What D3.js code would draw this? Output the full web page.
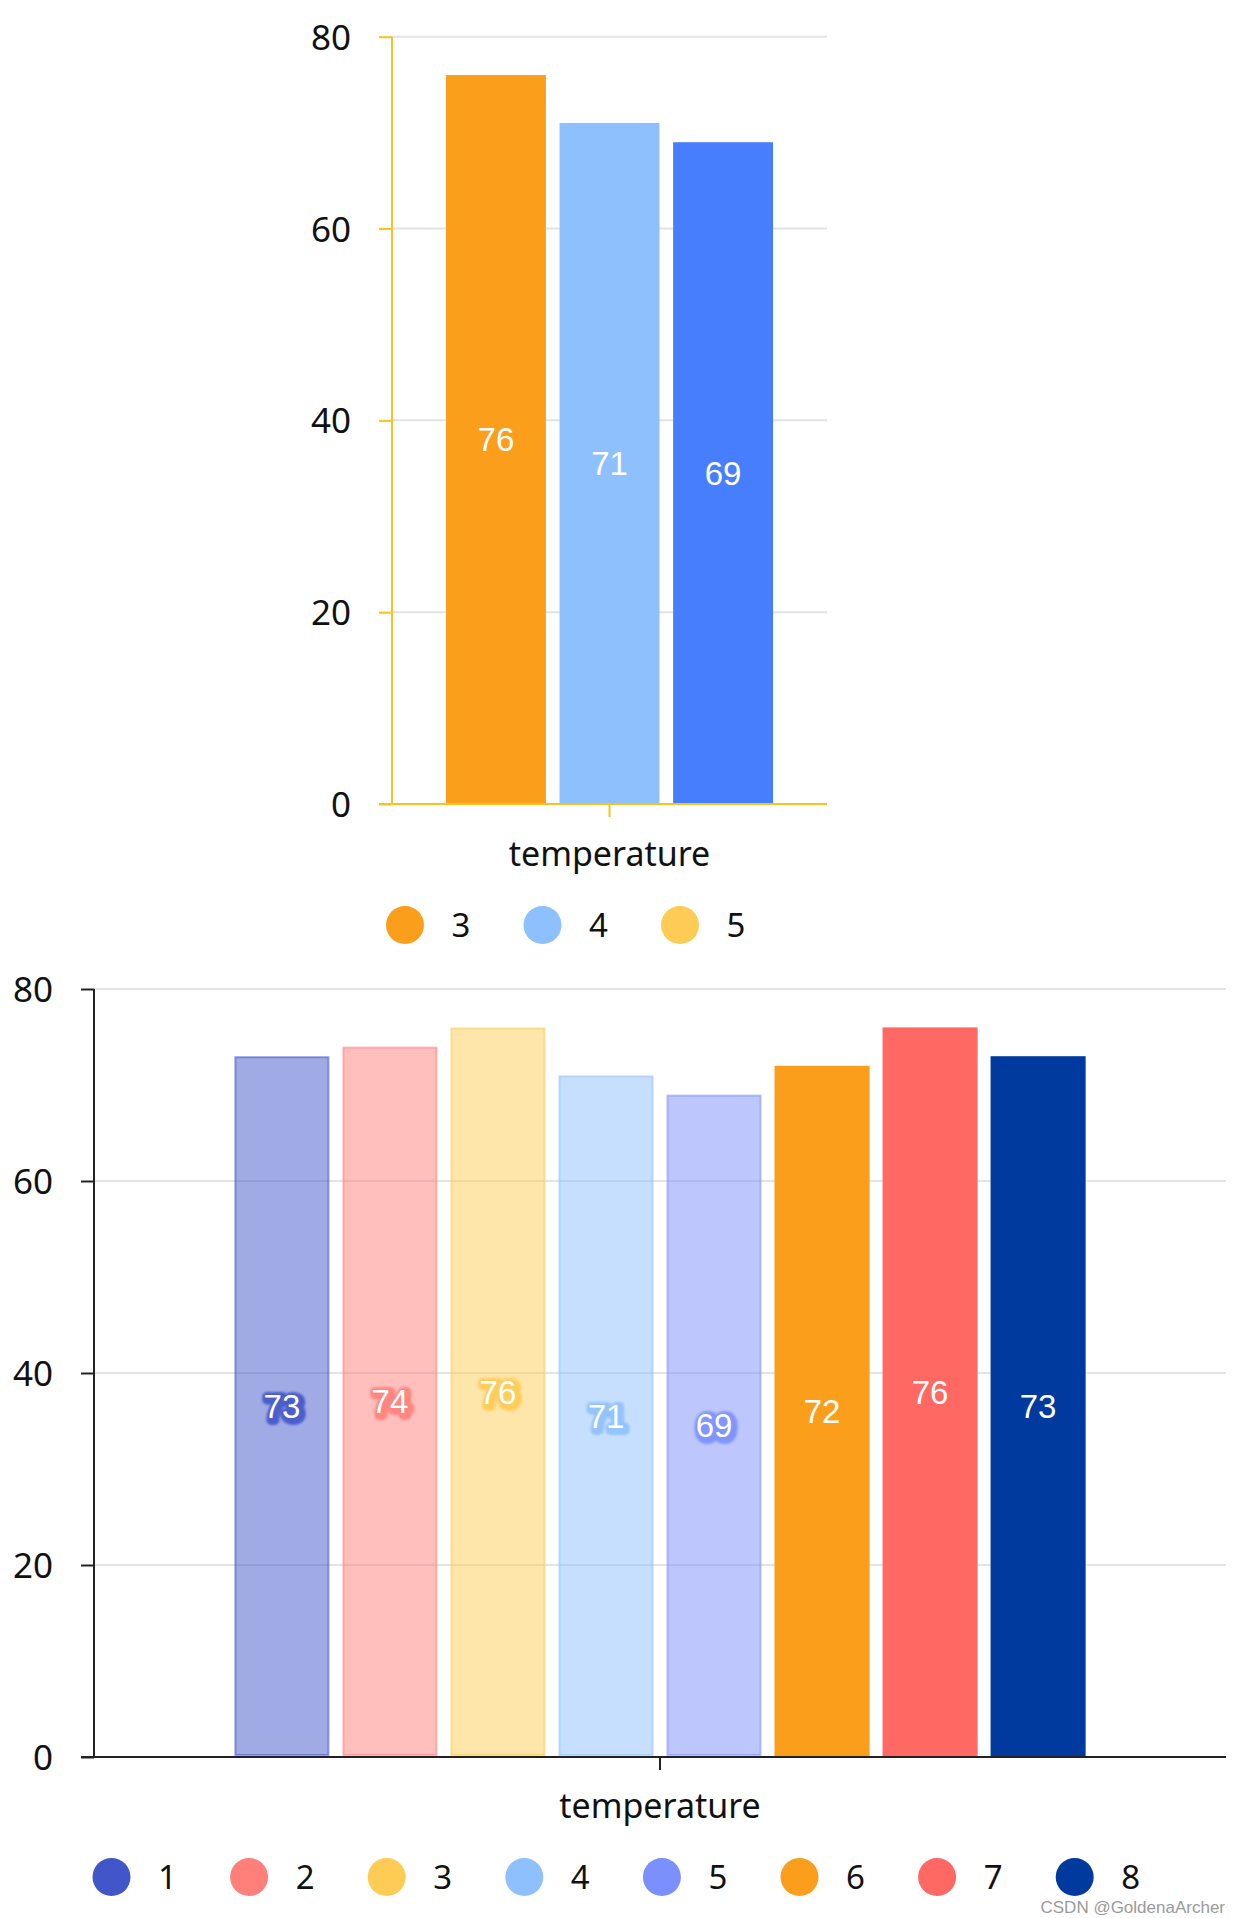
<!DOCTYPE html>
<html>
<head>
<meta charset="utf-8">
<script src="https://cdn.jsdelivr.net/npm/d3@7/dist/d3.min.js"></script>
<style>
  html, body { margin: 0; padding: 0; background: #fff; }
  svg { display: block; }
</style>
</head>
<body>
<svg id="chart" width="1242" height="1918"></svg>
<script>
// ---------- data ----------
const categories = ["temperature"];
const yTicks = [0, 20, 40, 60, 80];

const topSeries = ["3", "4", "5"];
const topValues = [76, 71, 69];
const topBarColors = ["#fb9e1c", "#8fc0fe", "#477efe"];
const topLegendColors = ["#fb9e1c", "#8fc0fe", "#fecb54"];

const bottomSeries = ["1", "2", "3", "4", "5", "6", "7", "8"];
const bottomValues = [73, 74, 76, 71, 69, 72, 76, 73];
const bottomColors = ["#4256c9", "#ff807a", "#fecb54", "#8fc0fe", "#7b8ffd", "#fb9e1c", "#ff6863", "#003a9f"];
const bottomTranslucent = [true, true, true, true, true, false, false, false];

// ---------- drawing ----------
const svg = d3.select("#chart");
const tickFont = "'Noto Sans', 'Open Sans', sans-serif";
const labelFont = "'Liberation Sans', Arial, sans-serif";

const defs = svg.append("defs");
defs.append("filter").attr("id", "haloBlur").attr("x", "-30%").attr("y", "-30%")
  .attr("width", "160%").attr("height", "160%")
  .append("feGaussianBlur").attr("stdDeviation", 1.2);

function drawChart(cfg) {
  const g = svg.append("g");
  const y = d3.scaleLinear().domain([0, 80]).range([cfg.y0, cfg.y80]);
  const x = d3.scaleBand().domain(categories).range([cfg.xLeft, cfg.xRight]).padding(0);
  const bw = x.bandwidth();
  const inner = d3.scaleBand().domain(cfg.series)
    .range([x(categories[0]) + bw * 0.124, x(categories[0]) + bw * 0.876])
    .paddingInner(0.12).paddingOuter(0);

  // gridlines
  g.append("g").selectAll("line").data(yTicks.filter(t => t > 0)).join("line")
    .attr("x1", cfg.xLeft).attr("x2", cfg.xRight)
    .attr("y1", d => y(d)).attr("y2", d => y(d))
    .attr("stroke", "#e3e3e3").attr("stroke-width", 2);

  // bars
  const bars = g.append("g");
  cfg.series.forEach((s, i) => {
    const v = cfg.values[i];
    const col = cfg.barColors[i];
    const trans = cfg.translucent ? cfg.translucent[i] : false;
    const r = bars.append("rect")
      .attr("x", inner(s) + (trans ? 1 : 0))
      .attr("width", inner.bandwidth() - (trans ? 2 : 0))
      .attr("y", y(v) + (trans ? 1 : 0))
      .attr("height", y(0) - y(v) - (trans ? 3 : 0))
      .attr("fill", col);
    if (trans) {
      r.attr("fill-opacity", 0.5).attr("stroke", col).attr("stroke-opacity", 0.55).attr("stroke-width", 2);
    }
  });

  // y axis
  const yAxis = d3.axisLeft(y).tickValues(yTicks).tickSize(13).tickPadding(28).tickFormat(d3.format("d"));
  const ya = g.append("g").attr("transform", `translate(${cfg.xLeft},0)`).call(yAxis);
  ya.select(".domain").attr("stroke", cfg.axisColor).attr("stroke-width", 2)
    .attr("d", `M0,${y(0)}V${y(80)}`);
  ya.selectAll(".tick line").attr("stroke", cfg.axisColor).attr("stroke-width", 2);
  ya.selectAll(".tick text").attr("font-family", tickFont).attr("font-size", 35)
    .attr("fill", "#111").attr("dy", "0.36em");

  // x axis
  const xAxis = d3.axisBottom(x).tickSize(13).tickFormat(() => "");
  const xa = g.append("g").attr("transform", `translate(0,${y(0)})`).call(xAxis);
  xa.select(".domain").attr("stroke", cfg.axisColor).attr("stroke-width", 2)
    .attr("d", `M${cfg.xLeft - 13},0H${cfg.xRight}`);
  xa.selectAll(".tick line").attr("stroke", cfg.axisColor).attr("stroke-width", 2);

  g.append("text").attr("x", x(categories[0]) + bw / 2).attr("y", cfg.catLabelY)
    .attr("text-anchor", "middle").attr("font-family", tickFont).attr("font-size", 34)
    .attr("fill", "#111").text(categories[0]);

  // data labels
  const labels = g.append("g");
  cfg.series.forEach((s, i) => {
    const v = cfg.values[i];
    const cx = inner(s) + inner.bandwidth() / 2;
    const cy = (y(v) + y(0)) / 2;
    const halo = cfg.translucent ? cfg.translucent[i] : false;
    if (halo) {
      labels.append("text").attr("x", cx + 2).attr("y", cy + 2)
        .attr("text-anchor", "middle").attr("dominant-baseline", "central")
        .attr("font-family", labelFont).attr("font-size", 33)
        .attr("fill", cfg.barColors[i]).attr("stroke", cfg.barColors[i])
        .attr("stroke-width", 10).attr("stroke-linejoin", "round")
        .attr("filter", "url(#haloBlur)")
        .attr("opacity", 0.9).text(v);
    }
    labels.append("text").attr("x", cx).attr("y", cy)
      .attr("text-anchor", "middle").attr("dominant-baseline", "central")
      .attr("font-family", labelFont).attr("font-size", 33)
      .attr("fill", "#fff").text(v);
  });

  // legend
  const lg = g.append("g");
  cfg.series.forEach((s, i) => {
    const lx = cfg.legendX0 + i * cfg.legendStep;
    lg.append("circle").attr("cx", lx).attr("cy", cfg.legendY).attr("r", 19)
      .attr("fill", cfg.legendColors[i]);
    lg.append("text").attr("x", lx + 56).attr("y", cfg.legendY + 12)
      .attr("text-anchor", "middle").attr("font-family", tickFont).attr("font-size", 33)
      .attr("fill", "#111").text(s);
  });
}

drawChart({
  series: topSeries, values: topValues, barColors: topBarColors, legendColors: topLegendColors,
  y0: 804, y80: 36.7, xLeft: 392, xRight: 827, axisColor: "#f7c31c",
  catLabelY: 866, legendX0: 405, legendStep: 137.5, legendY: 925
});

drawChart({
  series: bottomSeries, values: bottomValues, barColors: bottomColors, legendColors: bottomColors,
  translucent: bottomTranslucent,
  y0: 1757, y80: 989, xLeft: 94, xRight: 1226, axisColor: "#222",
  catLabelY: 1818, legendX0: 111.5, legendStep: 137.6, legendY: 1877
});

// watermark
svg.append("text").attr("x", 1225).attr("y", 1913).attr("text-anchor", "end")
  .attr("font-family", labelFont).attr("font-size", 17).attr("fill", "#9a9a9a")
  .text("CSDN @GoldenaArcher");
</script>
</body>
</html>
